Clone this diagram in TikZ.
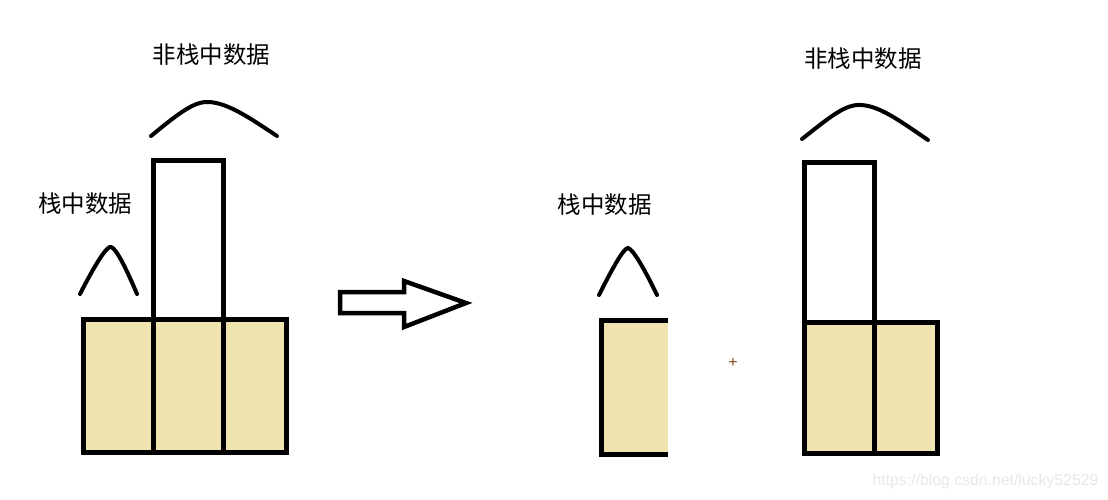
\documentclass[tikz,border=0pt]{standalone}
\usepackage{fontspec}
\setsansfont{Liberation Sans}
\newfontfamily\cjk{Noto Sans CJK SC}
\definecolor{stkFill}{HTML}{EFE3B0}
\definecolor{stkInk}{HTML}{000000}
\definecolor{stkPlus}{HTML}{8A4A1C}
\definecolor{stkMark}{HTML}{E8E8E8}
\tikzset{
  stk line/.style={draw=stkInk, line width=5pt},
  stk cell/.style={stk line, fill=stkFill},
  stk hump/.style={draw=stkInk, line width=4pt, line cap=round},
  stk label/.style={font=\cjk\fontsize{23.5}{23.5}\selectfont, text=stkInk, inner sep=0pt},
}
\begin{document}
\begin{tikzpicture}[x=1pt, y=-1pt]
  \useasboundingbox[fill=white] (0,0) rectangle (1108,499);

  % Left: three stack cells plus the tall non-stack column
  \foreach \xa/\xb in {83/153.5, 153.5/223.5, 223.5/286} {
    \draw[stk cell] (\xa,319) rectangle (\xb,452);
  }
  \draw[stk line] (153.5,160) rectangle (223.5,319);

  % Humps over the left picture
  \draw[stk hump] (80,294) .. controls (100,255) and (108,246) .. (111,247)
    .. controls (116,248) and (126,268) .. (137,294);
  \draw[stk hump] (151,136) .. controls (180,112) and (195,101) .. (209,102)
    .. controls (228,103) and (250,118) .. (277,136);
  \node[stk label] (leftStack) at (85,204) {栈中数据};
  \node[stk label] (leftHeap) at (211.5,55) {非栈中数据};

  % Hollow arrow in the middle
  \draw[stk line, line width=4.5pt, line join=miter]
    (340,292) -- (404,292) -- (404,281) -- (466,303) -- (404,327)
    -- (404,313) -- (340,313) -- cycle;

  % Right: single stack cell, open on its right side
  \fill[stkFill] (601.5,320.5) rectangle (668,454.5);
  \draw[stk line] (668,320.5) -- (601.5,320.5) -- (601.5,454.5) -- (668,454.5);
  \draw[stk hump] (599,295) .. controls (618,257) and (625,248) .. (628,248)
    .. controls (633,249) and (645,270) .. (657,295);
  \node[stk label] (rightStack) at (604.5,205) {栈中数据};

  \node[font=\sffamily\fontsize{16}{16}\selectfont, text=stkPlus, inner sep=0pt] (plus) at (733,363) {+};

  % Right: two cells plus the tall column
  \foreach \xa/\xb in {804.5/874.5, 874.5/937} {
    \draw[stk cell] (\xa,322) rectangle (\xb,453);
  }
  \draw[stk line] (804.5,162.5) rectangle (874.5,322);
  \draw[stk hump] (802,139) .. controls (830,117) and (845,104) .. (861,105)
    .. controls (880,106) and (900,121) .. (928,140);
  \node[stk label] (rightHeap) at (863,59) {非栈中数据};

  % Watermark
  \node[font=\sffamily\fontsize{15.8}{15.8}\selectfont, text=stkMark, inner sep=0pt] (mark) at (985.5,481) {https://blog.csdn.net/lucky52529};
\end{tikzpicture}
\end{document}
